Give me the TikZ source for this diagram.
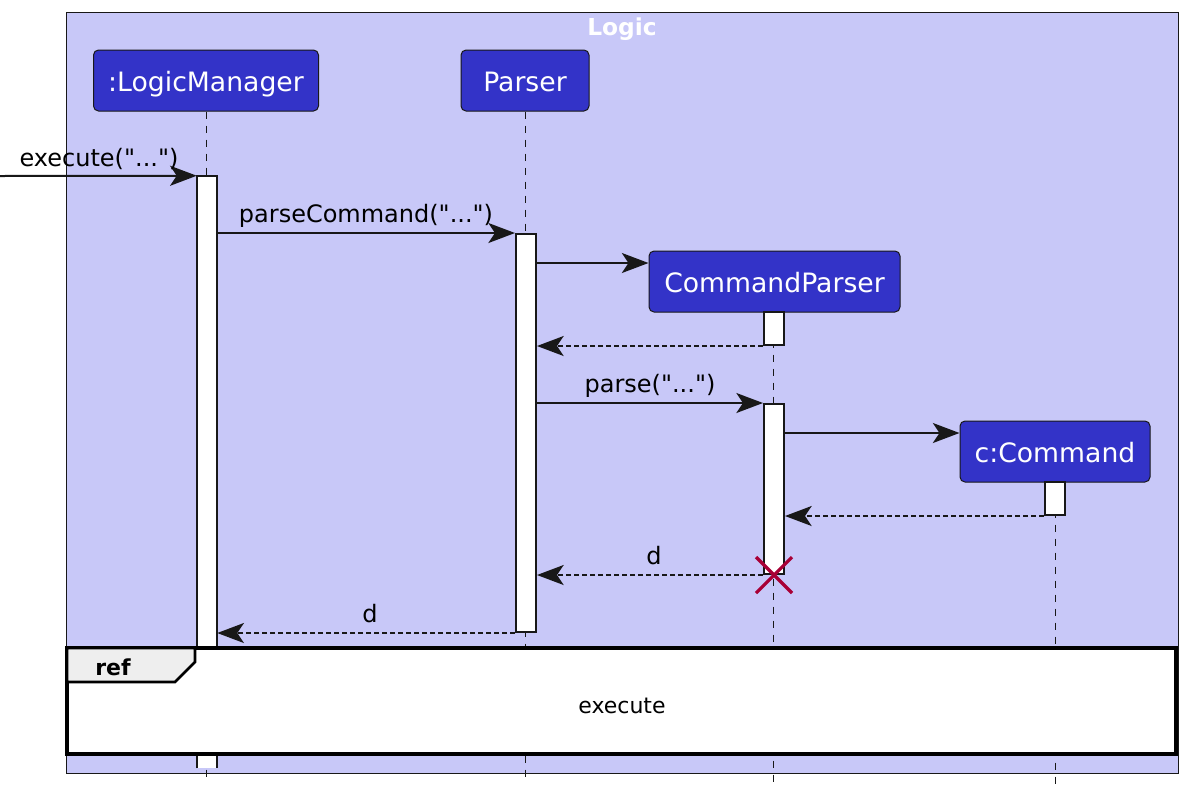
\documentclass[tikz,border=0pt]{standalone}
\usepackage{fontspec}
\setmainfont{DejaVu Sans}[Ligatures=TeXOff]
\usetikzlibrary{arrows.meta}
\definecolor{grp}{RGB}{200,200,248}
\definecolor{partc}{RGB}{51,51,200}
\definecolor{ln}{RGB}{24,24,24}
\definecolor{xred}{RGB}{168,0,54}
\definecolor{tabgray}{RGB}{238,238,238}
\begin{document}
\begin{tikzpicture}[x=0.75pt,y=-0.75pt,
 participant/.style={draw=ln, line width=0.75pt, fill=partc, rounded corners=3.75pt, text=white,
   font=\fontsize{20}{22}\selectfont, inner sep=0pt, minimum height={61*0.75pt},
   text height=16.8pt, text depth=0pt},
 lifeline/.style={draw=ln, line width=0.75pt, dash pattern=on 5.25pt off 5.25pt},
 actbar/.style={draw=ln, fill=white, line width=1.5pt, inner sep=0pt, minimum width=15pt},
 msg/.style={draw=ln, line width=1.5pt, -{Stealth[length=20pt,width=15pt,inset=5pt]}},
 ret/.style={msg, dash pattern=on 3.4pt off 2.6pt},
 lbl/.style={font=\fontsize{18}{20}\selectfont, text=black, inner sep=0pt},
]
\useasboundingbox (0,0) rectangle (1188,797);
% group
\fill[grp] (66,12) rectangle (1178,773);
\draw[ln, line width=0.75pt] (66,12) rectangle (1178,773);
\node[text=white, font=\bfseries\fontsize{17.5}{20}\selectfont] (title) at (622,29.5) {Logic};
% participants
\node[participant, minimum width={225*0.75pt}] (lm) at (206,80.5) {:LogicManager};
\node[participant, minimum width={128*0.75pt}] (parser) at (525,80.5) {Parser};
\node[participant, minimum width={251*0.75pt}] (cp) at (774.5,281.5) {CommandParser};
\node[participant, minimum width={190*0.75pt}] (cmd) at (1055,451.5) {c:Command};
% lifelines
\coordinate (lmend) at (206,782);
\coordinate (pend) at (525,782);
\coordinate (cpend) at (773,782);
\coordinate (cmdend) at (1055,785);
\draw[lifeline] (lm.south) -- (lmend);
\draw[lifeline] (parser.south) -- (pend);
\draw[lifeline] (cp.south -| cpend) -- (cpend);
\draw[lifeline] (cmd.south) -- (cmdend);
% activation bars
\node[inner sep=0pt, minimum width=15pt, minimum height={592*0.75pt}] (lma) at (207,472) {};
\fill[white] (lma.south west) rectangle (lma.north east);
\draw[ln, line width=1.5pt] (lma.south west) -- (lma.north west) -- (lma.north east) -- (lma.south east);
\node[actbar, minimum height={398*0.75pt}] (pa) at (526,433) {};
\node[actbar, minimum height={33*0.75pt}] (cpa1) at (774,328.5) {};
\node[actbar, minimum height={170*0.75pt}] (cpa2) at (774,489) {};
\node[actbar, minimum height={33*0.75pt}] (cma) at (1055,498.5) {};
% messages
\coordinate (ext) at (0,176);
\draw[msg] (ext) -- (lma.north west);
\node[lbl] (l1) at (99,159) {execute("...")};
\draw[msg] (lma.east |- pa.north) -- (pa.north west);
\node[lbl] (l2) at (366,216) {parseCommand("...")};
\coordinate (c1) at (0,263);
\draw[msg] (pa.east |- c1) -- (cp.west |- c1);
\draw[ret] (cpa1.south west) -- (pa.east |- cpa1.south);
\draw[msg] (pa.east |- cpa2.north) -- (cpa2.north west);
\node[lbl] (l3) at (650,386) {parse("...")};
\coordinate (c2) at (0,433);
\draw[msg] (cpa2.east |- c2) -- (cmd.west |- c2);
\draw[ret] (cma.south west) -- (cpa2.east |- cma.south);
\draw[ret] (cpa2.south west) -- (pa.east |- cpa2.south);
\node[lbl] (l4) at (654,556) {d};
\draw[ret] (pa.south west) -- (lma.east |- pa.south);
\node[lbl] (l5) at (370,614) {d};
% destroy
\draw[xred, line width=2.4pt] (cpa2.south) +(-18,-18) -- +(18,18) +(-18,18) -- +(18,-18);
% ref
\node[draw=black, fill=white, line width=2.6pt, outer sep=0pt, minimum width={1109*0.75pt}, minimum height={106*0.75pt}, inner sep=0pt] (ref) at (621.5,701) {};
\node[font=\fontsize{16.5}{19}\selectfont, inner sep=0pt] (reftext) at (622,706) {execute};
\draw[black, fill=tabgray, line width=2pt] (ref.north west) -- (195,648) -- (195,662) -- (175,682) -- (ref.north west |- 0,682) -- cycle;
\node[font=\bfseries\fontsize{16.5}{19}\selectfont] (reflbl) at (113,667) {ref};
\end{tikzpicture}
\end{document}
